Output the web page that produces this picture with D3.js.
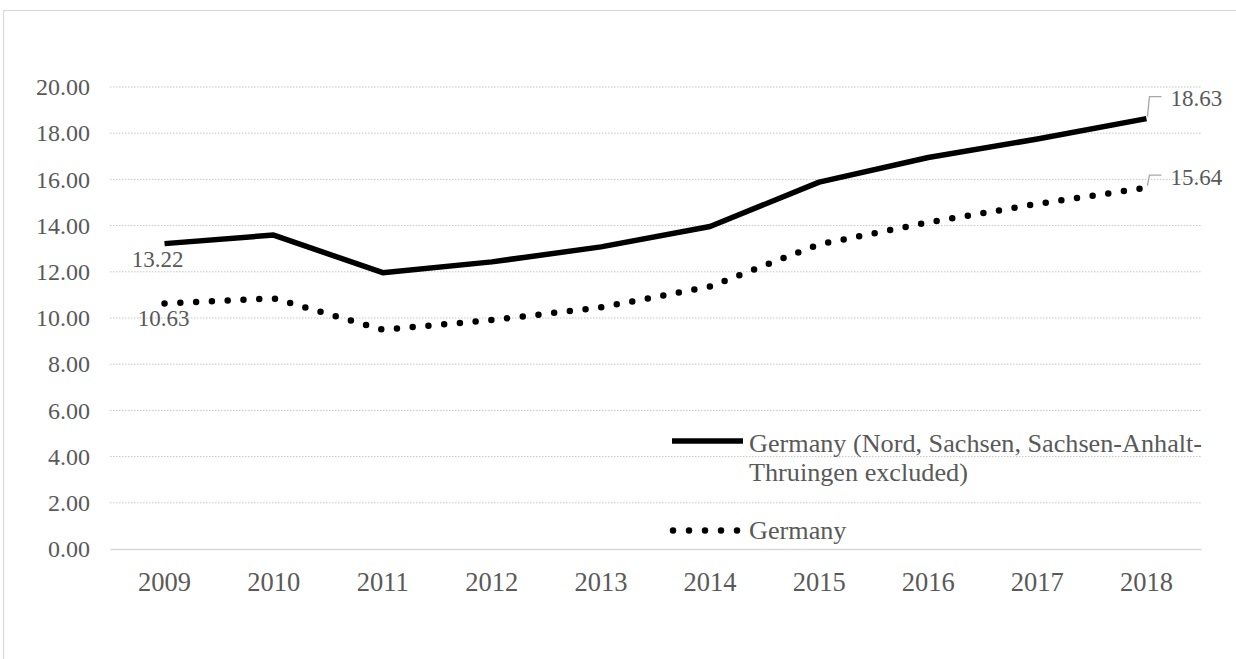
<!DOCTYPE html>
<html>
<head>
<meta charset="utf-8">
<script src="https://cdn.jsdelivr.net/npm/d3@7"></script>
<style>
  html, body { margin: 0; padding: 0; background: #fff; }
  svg { display: block; }
  text { font-family: "Liberation Serif", "Times New Roman", serif; fill: #595959; }
</style>
</head>
<body>
<script>
const years = ["2009","2010","2011","2012","2013","2014","2015","2016","2017","2018"];
const excludedSeries = [13.22, 13.59, 11.96, 12.43, 13.08, 13.96, 15.88, 16.95, 17.75, 18.63];
const germanySeries = [10.63, 10.85, 9.49, 9.91, 10.46, 11.36, 13.19, 14.14, 14.94, 15.64];
const yTicks = [0, 2, 4, 6, 8, 10, 12, 14, 16, 18, 20];
const seriesNames = ["Germany (Nord, Sachsen, Sachsen-Anhalt-", "Thruingen excluded)"];
const seriesName2 = "Germany";

const W = 1236, H = 659;
const svg = d3.select("body").append("svg").attr("width", W).attr("height", H);

// outer chart border
svg.append("rect").attr("x", 3.5).attr("y", 10.5).attr("width", 1260).attr("height", 700)
  .attr("fill", "none").attr("stroke", "#d9d9d9").attr("stroke-width", 1.2);

const plotLeft = 110, plotRight = 1201, plotTop = 87, plotBottom = 549;
const x = d3.scaleBand().domain(years).range([plotLeft, plotRight]);
const y = d3.scaleLinear().domain([0, 20]).range([plotBottom, plotTop]);
const cx = d => x(d) + x.bandwidth() / 2;

// gridlines
svg.append("g").selectAll("line").data(yTicks.filter(t => t > 0)).join("line")
  .attr("x1", plotLeft).attr("x2", plotRight)
  .attr("y1", d => y(d)).attr("y2", d => y(d))
  .attr("stroke", "#c6c6c6").attr("stroke-width", 1).attr("stroke-dasharray", "1.5,1.5");

// y axis labels
const yAxis = d3.axisLeft(y).tickValues(yTicks).tickFormat(d3.format(".2f")).tickSize(0).tickPadding(20);
const gy = svg.append("g").attr("transform", `translate(${plotLeft},0)`).call(yAxis);
gy.select(".domain").remove();
gy.selectAll("text").style("font-size", "24px").style("font-family", "'Liberation Serif', serif").attr("fill", "#595959");

// x axis
const xAxis = d3.axisBottom(x).tickSize(0).tickPadding(0);
const gx = svg.append("g").attr("transform", `translate(0,${plotBottom})`).call(xAxis);
gx.select(".domain").attr("stroke", "#d9d9d9").attr("stroke-width", 1.5);
gx.selectAll("text").attr("y", 42).attr("dy", null)
  .style("font-size", "26.5px").style("font-family", "'Liberation Serif', serif").attr("fill", "#595959");

const line = d3.line().x((d, i) => cx(years[i])).y(d => y(d));

// series
svg.append("path").datum(germanySeries).attr("d", line)
  .attr("fill", "none").attr("stroke", "#000").attr("stroke-width", 6.5)
  .attr("stroke-linecap", "round").attr("stroke-dasharray", "0,15.8");
svg.append("path").datum(excludedSeries).attr("d", line)
  .attr("fill", "none").attr("stroke", "#000").attr("stroke-width", 5.5)
  .attr("stroke-linejoin", "round");

// data labels (first point)
const fmt = d3.format(".2f");
svg.append("text").attr("x", cx(years[0]) - 7).attr("y", y(excludedSeries[0]) + 23.5)
  .attr("text-anchor", "middle").style("font-size", "23px").text(fmt(excludedSeries[0]));
svg.append("text").attr("x", cx(years[0]) - 1).attr("y", y(germanySeries[0]) + 22.5)
  .attr("text-anchor", "middle").style("font-size", "23px").text(fmt(germanySeries[0]));

// data labels (last point) with leader lines
const last = years.length - 1;
[[excludedSeries, 22], [germanySeries, 12.5]].forEach(([s, rise]) => {
  const px = cx(years[last]), py = y(s[last]);
  svg.append("path")
    .attr("d", `M${px + 1},${py - 2} L${px + 3},${py - rise} L${px + 15},${py - rise}`)
    .attr("fill", "none").attr("stroke", "#a6a6a6").attr("stroke-width", 1.3);
  svg.append("text").attr("x", px + 24).attr("y", py - rise + 9.5)
    .style("font-size", "23px").text(fmt(s[last]));
});

// legend
const lg = svg.append("g");
lg.append("line").attr("x1", 672).attr("x2", 743).attr("y1", 441).attr("y2", 441)
  .attr("stroke", "#000").attr("stroke-width", 5.5);
lg.append("text").attr("x", 749).attr("y", 451.5).style("font-size", "26.2px").text(seriesNames[0]);
lg.append("text").attr("x", 749).attr("y", 480.5).style("font-size", "26.2px").text(seriesNames[1]);
lg.append("line").attr("x1", 673).attr("x2", 740).attr("y1", 530.5).attr("y2", 530.5)
  .attr("stroke", "#000").attr("stroke-width", 6.5).attr("stroke-linecap", "round")
  .attr("stroke-dasharray", "0,16");
lg.append("text").attr("x", 749).attr("y", 538.5).style("font-size", "26.2px").text(seriesName2);
</script>
</body>
</html>
